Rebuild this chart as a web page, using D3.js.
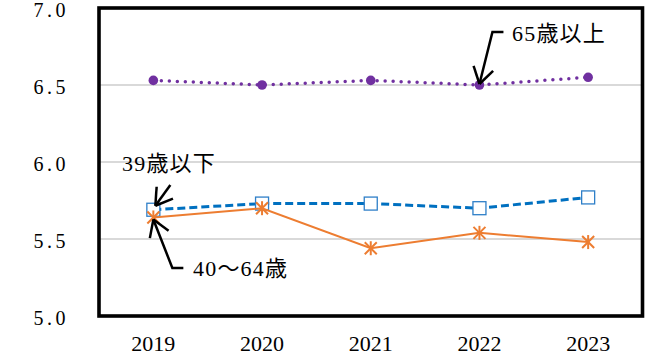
<!DOCTYPE html>
<html>
<head>
<meta charset="utf-8">
<script src="https://cdn.jsdelivr.net/npm/d3@7"></script>
<style>
  html, body { margin: 0; padding: 0; background: #fff; }
  svg { display: block; }
</style>
</head>
<body>
<svg id="chart" width="646" height="361"></svg>
<script>
// Survey years and the three age-group series
const years = ["2019", "2020", "2021", "2022", "2023"];
const under39 = [5.69, 5.73, 5.73, 5.70, 5.77];
const age40to64 = [5.64, 5.70, 5.44, 5.54, 5.48];
const over65 = [6.53, 6.50, 6.53, 6.50, 6.55];
const yTicks = [5.0, 5.5, 6.0, 6.5, 7.0];
const seriesNames = ["39歳以下", "40〜64歳", "65歳以上"];

const FONT = '"Liberation Serif", "Times New Roman", "DejaVu Serif", "Noto Sans CJK JP", serif';

const svg = d3.select("#chart");
const frame = { left: 99, right: 642.5, top: 8, bottom: 316 };

const x = d3.scaleBand().domain(years).range([frame.left, frame.right]);
const y = d3.scaleLinear().domain([5, 7]).range([frame.bottom, frame.top]);
const cx = d => x(d) + x.bandwidth() / 2;

// Horizontal gridlines
svg.append("g")
  .selectAll("line")
  .data(yTicks.filter(t => t > 5 && t < 7))
  .join("line")
  .attr("x1", frame.left).attr("x2", frame.right)
  .attr("y1", d => y(d)).attr("y2", d => y(d))
  .attr("stroke", "#d9d9d9").attr("stroke-width", 2);

// Y axis labels
const yAxis = svg.append("g")
  .attr("transform", `translate(${frame.left},0)`)
  .call(d3.axisLeft(y).tickValues(yTicks).tickFormat(d3.format(".1f")).tickSize(0).tickPadding(30));
yAxis.select(".domain").remove();
yAxis.selectAll("text")
  .style("font-family", FONT)
  .style("font-size", "20px")
  .style("fill", "#000")
  .attr("dy", "0.43em")
  .attr("letter-spacing", 3.5);

// X axis labels
const xAxis = svg.append("g")
  .attr("transform", `translate(0,${frame.bottom})`)
  .call(d3.axisBottom(x).tickSize(0).tickPadding(19));
xAxis.select(".domain").remove();
xAxis.selectAll("text")
  .style("font-family", FONT)
  .style("font-size", "22px")
  .style("fill", "#000");

const line = d3.line().x((d, i) => cx(years[i])).y(d => y(d));

// 39歳以下: blue dashed line with open squares
svg.append("path")
  .datum(under39)
  .attr("d", line)
  .attr("fill", "none")
  .attr("stroke", "#0070c0")
  .attr("stroke-width", 3)
  .attr("stroke-dasharray", "8 4");
svg.append("g").selectAll("rect")
  .data(under39)
  .join("rect")
  .attr("x", (d, i) => cx(years[i]) - 6.5)
  .attr("y", d => y(d) - 6.5)
  .attr("width", 13).attr("height", 13)
  .attr("fill", "#fff")
  .attr("stroke", "#2e7fc8")
  .attr("stroke-width", 1.3);

// 40〜64歳: orange solid line with asterisk markers
svg.append("path")
  .datum(age40to64)
  .attr("d", line)
  .attr("fill", "none")
  .attr("stroke", "#ed7d31")
  .attr("stroke-width", 2);
const star = svg.append("g").selectAll("g")
  .data(age40to64)
  .join("g")
  .attr("transform", (d, i) => `translate(${cx(years[i])},${y(d)})`)
  .attr("stroke", "#ed7d31")
  .attr("stroke-width", 2);
star.append("line").attr("x1", -6).attr("y1", -6).attr("x2", 6).attr("y2", 6);
star.append("line").attr("x1", -6).attr("y1", 6).attr("x2", 6).attr("y2", -6);
star.append("line").attr("x1", 0).attr("y1", -7).attr("x2", 0).attr("y2", 7);

// 65歳以上: purple dotted line with filled circles
svg.append("path")
  .datum(over65)
  .attr("d", line)
  .attr("fill", "none")
  .attr("stroke", "#7030a0")
  .attr("stroke-width", 3.5)
  .attr("stroke-linecap", "round")
  .attr("stroke-dasharray", "0 8");
svg.append("g").selectAll("circle")
  .data(over65)
  .join("circle")
  .attr("cx", (d, i) => cx(years[i]))
  .attr("cy", d => y(d))
  .attr("r", 4.8)
  .attr("fill", "#7030a0");

// Plot frame
svg.append("rect")
  .attr("x", frame.left).attr("y", frame.top)
  .attr("width", frame.right - frame.left)
  .attr("height", frame.bottom - frame.top)
  .attr("fill", "none")
  .attr("stroke", "#000")
  .attr("stroke-width", 3.6);

// Callouts: leader polyline ending in an open arrowhead at the point
function callout(points, label, lx, ly) {
  const g = svg.append("g");
  g.append("polyline")
    .attr("points", points.map(p => p.join(",")).join(" "))
    .attr("fill", "none").attr("stroke", "#000").attr("stroke-width", 2.5);
  const tip = points[points.length - 1];
  const prev = points[points.length - 2];
  const ang = Math.atan2(prev[1] - tip[1], prev[0] - tip[0]);
  const spread = 32 * Math.PI / 180, len = 19;
  [-spread, spread].forEach(s => {
    g.append("line")
      .attr("x1", tip[0]).attr("y1", tip[1])
      .attr("x2", tip[0] + len * Math.cos(ang + s))
      .attr("y2", tip[1] + len * Math.sin(ang + s))
      .attr("stroke", "#000").attr("stroke-width", 2.5);
  });
  g.append("text")
    .attr("x", lx).attr("y", ly)
    .attr("dy", "0.35em")
    .attr("letter-spacing", 1.2)
    .style("font-family", FONT)
    .style("font-size", "22px")
    .style("fill", "#000")
    .text(label);
}

const p65 = [cx(years[3]), y(over65[3])];
callout([[p65[0] + 24, 32], [p65[0] + 13, 32], [p65[0], p65[1] - 1]], seriesNames[2], 512, 33);

const p39 = [cx(years[0]), y(under39[0])];
callout([[p39[0] + 17, 185], [p39[0] + 2, p39[1] - 4]], seriesNames[0], 122, 163);

const p40 = [cx(years[0]), y(age40to64[0])];
callout([[p40[0] + 30, 268], [p40[0] + 19, 268], [p40[0], p40[1] + 2]], seriesNames[1], 193, 268);
</script>
</body>
</html>
